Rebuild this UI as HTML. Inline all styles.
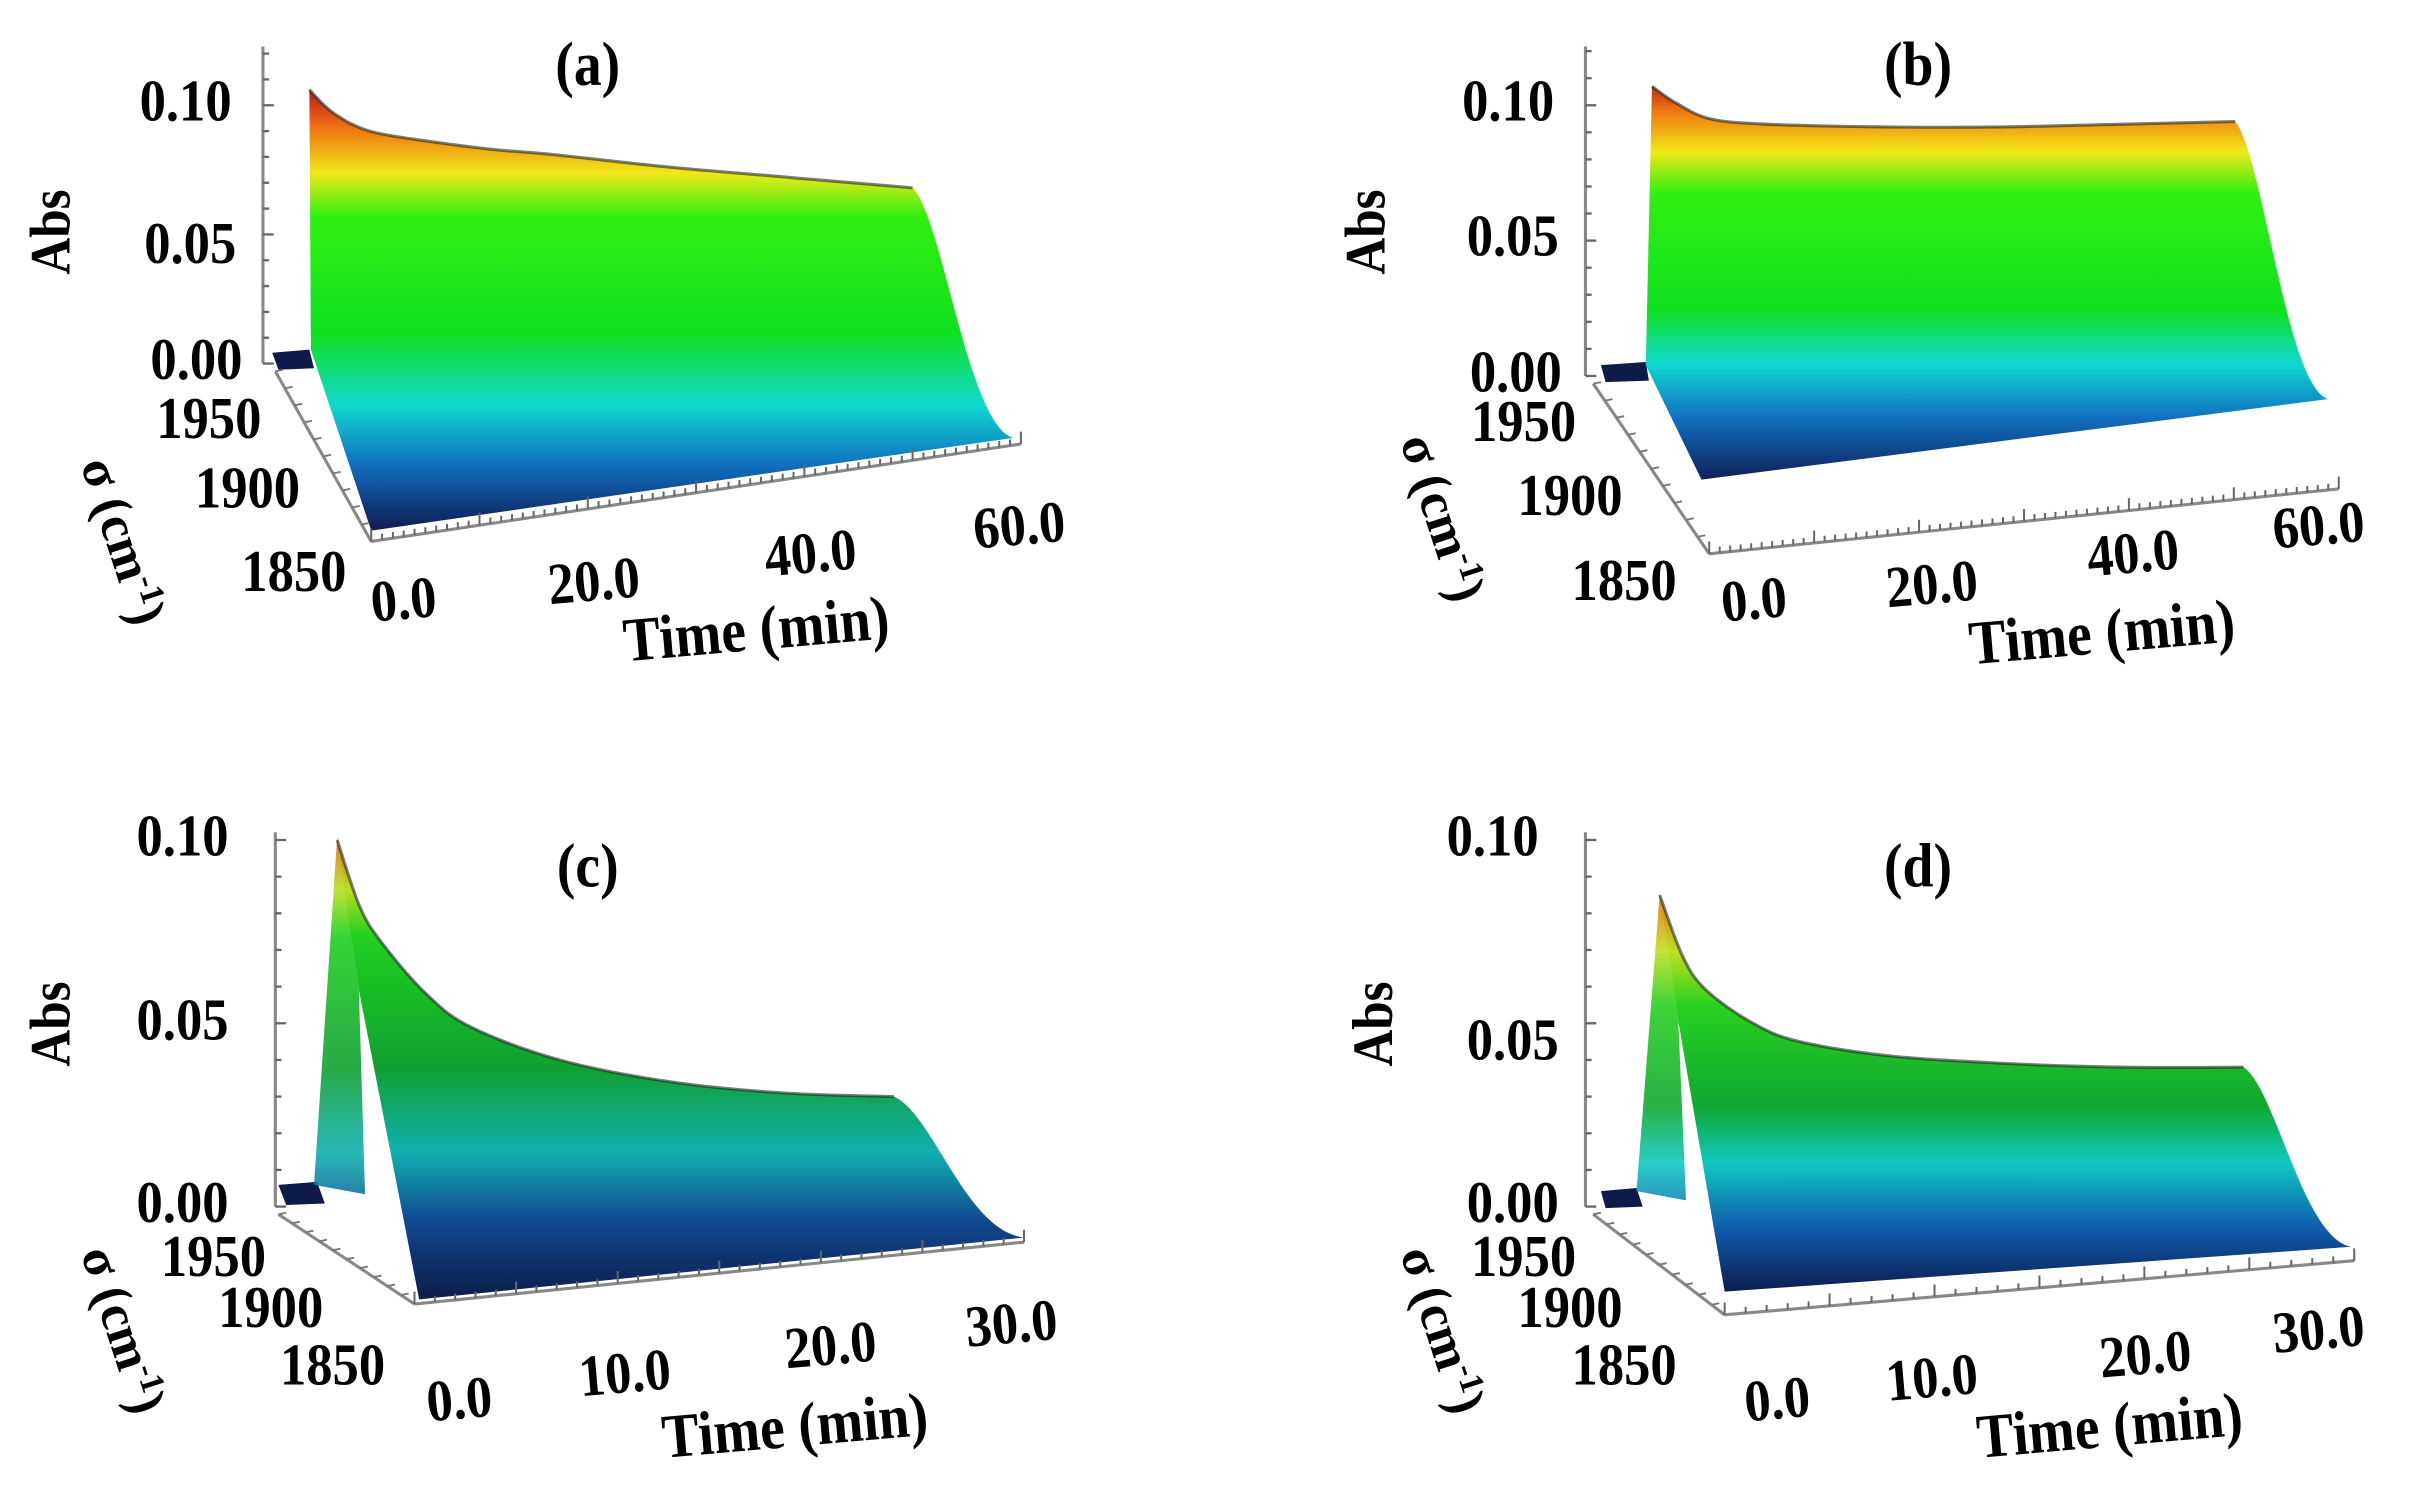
<!DOCTYPE html>
<html><head><meta charset="utf-8">
<style>
html,body{margin:0;padding:0;background:#fff;}
svg{display:block;}
text{font-family:"Liberation Serif",serif;font-weight:bold;fill:#000;}
</style></head>
<body>
<svg id="fig" width="2413" height="1499" viewBox="0 0 1560 969" xmlns="http://www.w3.org/2000/svg">
<defs id="defs"></defs>
</svg>
<script>
// ---- data ----
const timesA=[0,2,5,10,15,20,30,40,50];
const absA=[0.106,0.097,0.090,0.086,0.083,0.081,0.076,0.072,0.068];
const timesB=[0,2,5,10,20,30,40,50];
const absB=[0.107,0.101,0.095,0.093,0.092,0.092,0.093,0.094];
const timesC=[0,1,2,4,6,10,15,20,25];
const absC=[0.100,0.082,0.072,0.058,0.049,0.040,0.034,0.031,0.030];
const timesD=[0,1,2,4,6,10,15,20,25];
const absD=[0.085,0.068,0.059,0.050,0.045,0.041,0.039,0.038,0.038];
const absTicks=["0.00","0.05","0.10"];
const sigmaTicks=["1950","1900","1850"];
const timeTicks60=["0.0","20.0","40.0","60.0"];
const timeTicks30=["0.0","10.0","20.0","30.0"];

// ---- geometry per panel ----
const panels=[
 {id:'a',t:timesA,v:absA,ticks:timeTicks60,tmax:60,
  ax:170,base:235,k:1670,rx0:200,rdx:7.8,left:[201,226],fb0:[240,343],fb1:[655,283],
  sig0:[178,240],sig1:[240,350],tax1:[660,287],title:[380,55],
  absLab:[[127,245],[123,170],[120,78]],sigLab:[[135,283],[160,328],[190,382]],
  tLab:[[262,400],[385,388],[525,370],[660,352]],timeT:[490,420],absT:[45,150],sigT:[52,300],
  back:[[176,228],[200,226],[203,238],[180,239]],
  grad:[[58,'#b81818'],[82,'#f07010'],[112,'#f0e818'],[140,'#30f010'],[215,'#10e020'],[262,'#10d8d0'],[300,'#1070c0'],[340,'#102058']]},
 {id:'b',t:timesB,v:absB,ticks:timeTicks60,tmax:60,
  ax:1025,base:243,k:1750,rx0:1068,rdx:7.54,left:[1064,236],fb0:[1100,310],fb1:[1505,258],
  sig0:[1030,248],sig1:[1105,358],tax1:[1512,316],title:[1240,55],
  absLab:[[980,253],[978,165],[975,78]],sigLab:[[985,285],[1015,333],[1050,388]],
  tLab:[[1135,400],[1250,390],[1380,370],[1500,352]],timeT:[1360,422],absT:[895,150],sigT:[905,285],
  back:[[1035,236],[1064,234],[1066,246],[1038,247]],
  grad:[[55,'#c02818'],[72,'#f07810'],[98,'#f0e818'],[125,'#30f010'],[200,'#10e020'],[235,'#10d8d0'],[270,'#1070c0'],[310,'#102058']]},
 {id:'c',t:timesC,v:absC,ticks:timeTicks30,tmax:30,
  ax:178,base:780,k:2370,rx0:218,rdx:14.4,left:[232,640],fb0:[271,840],fb1:[662,800],
  sig0:[180,785],sig1:[268,843],tax1:[662,803],title:[380,573],
  absLab:[[118,790],[118,672],[118,553]],sigLab:[[138,825],[175,858],[215,895]],
  tLab:[[298,917],[405,900],[538,882],[655,868]],timeT:[515,935],absT:[45,662],sigT:[52,810],
  back:[[180,766],[205,764],[210,778],[185,779]],
  rise:[[203,766],[218,541],[232,640],[236,772]],
  grad:[[543,'#e07010'],[575,'#b8e020'],[605,'#20d020'],[690,'#10a030'],[745,'#10b0b0'],[790,'#104890'],[840,'#0c1c48']]},
 {id:'d',t:timesD,v:absD,ticks:timeTicks30,tmax:30,
  ax:1025,base:780,k:2370,rx0:1073,rdx:15.1,left:[1085,660],fb0:[1115,835],fb1:[1520,806],
  sig0:[1030,785],sig1:[1115,850],tax1:[1522,815],title:[1240,573],
  absLab:[[978,790],[978,685],[965,553]],sigLab:[[985,825],[1015,858],[1050,895]],
  tLab:[[1150,917],[1250,903],[1388,888],[1500,872]],timeT:[1365,935],absT:[900,662],sigT:[905,810],
  back:[[1035,770],[1058,768],[1062,780],[1038,781]],
  rise:[[1058,770],[1073,578],[1085,660],[1090,776]],
  grad:[[578,'#e07010'],[615,'#c0e020'],[650,'#28d020'],[715,'#10a830'],[752,'#10c8c0'],[792,'#1060b0'],[835,'#0c1c50']]}
];

const NS='http://www.w3.org/2000/svg';
const svg=document.getElementById('fig');
const defs=document.getElementById('defs');
function mk(tag,attrs,parent){const e=document.createElementNS(NS,tag);for(const k in attrs)e.setAttribute(k,attrs[k]);(parent||svg).appendChild(e);return e;}
function txt(s,x,y,size,parent,rot){const t=mk('text',{x:x,y:y,'font-size':size,'text-anchor':'middle','font-family':'"Liberation Serif Narrow","Liberation Serif",serif'},parent);t.setAttribute('transform',(rot!==undefined?'rotate('+rot+' '+x+' '+y+') ':'')+'translate('+x+' '+y+') scale(1,1.12) translate('+(-x)+' '+(-y)+')');t.textContent=s;return t;}
function smooth(pts){
  let d='';
  for(let i=0;i<pts.length-1;i++){
    const p0=pts[Math.max(0,i-1)],p1=pts[i],p2=pts[i+1],p3=pts[Math.min(pts.length-1,i+2)];
    const c1=[p1[0]+(p2[0]-p0[0])/6,p1[1]+(p2[1]-p0[1])/6];
    const c2=[p2[0]-(p3[0]-p1[0])/6,p2[1]-(p3[1]-p1[1])/6];
    d+=' C'+c1[0].toFixed(1)+','+c1[1].toFixed(1)+' '+c2[0].toFixed(1)+','+c2[1].toFixed(1)+' '+p2[0].toFixed(1)+','+p2[1].toFixed(1);
  }
  return d;
}

panels.forEach(p=>{
  const g=mk('g',{});
  
  
  const gr=mk('linearGradient',{id:'g'+p.id,gradientUnits:'userSpaceOnUse',x1:0,x2:0,y1:p.grad[0][0],y2:p.grad[p.grad.length-1][0]},defs);
  const y0=p.grad[0][0],y1=p.grad[p.grad.length-1][0];
  p.grad.forEach(s=>mk('stop',{offset:((s[0]-y0)/(y1-y0)).toFixed(3),'stop-color':s[1]},gr));
  const X=t=>p.rx0+t*p.rdx;
  const Y=v=>p.base-v*p.k;
  const bk=mk('polygon',{points:p.back.map(q=>q.join(',')).join(' '),fill:'#0e1a48'},g);
  
  
  if(p.rise){
    const rs=mk('polygon',{points:p.rise.map(q=>q.join(',')).join(' '),fill:'url(#g'+p.id+')',opacity:0.9},g);
    
    
  }
  const pts=p.t.map((t,i)=>[X(t),Y(p.v[i])]);
  const ridgeD='M'+pts[0][0]+','+pts[0][1]+smooth(pts);
  const xe=pts[pts.length-1][0],ye=pts[pts.length-1][1];
  const dx=p.fb1[0]-xe,dy=p.fb1[1]-ye;
  let d=ridgeD+' C'+(xe+dx*0.3)+','+(ye+dy*0.12)+' '+(xe+dx*0.55)+','+(ye+dy*0.95)+' '+p.fb1[0]+','+p.fb1[1];
  d+=' L'+p.fb0[0]+','+p.fb0[1]+' L'+p.left[0]+','+p.left[1]+' Z';
  const face=mk('path',{d:d,fill:'url(#g'+p.id+')'},g);
  
  
  const ridge=mk('path',{d:ridgeD,fill:'none',stroke:'#1a2a20','stroke-width':2,'stroke-opacity':0.6},g);
  
  
  const top=p.id==='a'||p.id==='b'?30:538;
  const ax=mk('line',{x1:p.ax,y1:top,x2:p.ax,y2:p.base,stroke:'#888','stroke-width':2},g);
  
  
  for(let v=0;v<=0.1201;v+=0.01){
    const yy=Y(v); if(yy<top-1)break;
    mk('line',{x1:p.ax,y1:yy,x2:p.ax+(Math.round(v*100)%5===0?7:4),y2:yy,stroke:'#666','stroke-width':1.5},g);
  }
  const sa=mk('line',{x1:p.sig0[0],y1:p.sig0[1],x2:p.sig1[0],y2:p.sig1[1],stroke:'#888','stroke-width':2},g);
  
  
  for(let i=0;i<=10;i++){const f=i/10;const xx=p.sig0[0]+f*(p.sig1[0]-p.sig0[0]),yy=p.sig0[1]+f*(p.sig1[1]-p.sig0[1]);mk('line',{x1:xx,y1:yy,x2:xx+5,y2:yy-1,stroke:'#777','stroke-width':1.2},g);}
  const ta=mk('line',{x1:p.sig1[0],y1:p.sig1[1],x2:p.tax1[0],y2:p.tax1[1],stroke:'#888','stroke-width':2},g);
  
  
  const nt=p.tmax;
  for(let i=0;i<=nt;i++){const f=i/nt;const xx=p.sig1[0]+f*(p.tax1[0]-p.sig1[0]),yy=p.sig1[1]+f*(p.tax1[1]-p.sig1[1]);const L=(i%(nt/6)===0)?8:4;mk('line',{x1:xx,y1:yy,x2:xx,y2:yy-L,stroke:'#666','stroke-width':1.3},g);}
  absTicks.forEach((s,i)=>{const t=txt(s,p.absLab[i][0],p.absLab[i][1],34,g);});
  sigmaTicks.forEach((s,i)=>{const t=txt(s,p.sigLab[i][0],p.sigLab[i][1],34,g);});
  p.ticks.forEach((s,i)=>{const t=txt(s,p.tLab[i][0],p.tLab[i][1],34,g,-5);});
  const tt=txt('Time (min)',p.timeT[0],p.timeT[1],36,g,-5);
  
  
  const at=txt('Abs',p.absT[0],p.absT[1],33,g,-90);
  
  
  const st=mk('text',{x:p.sigT[0],y:p.sigT[1],'font-size':34,transform:'rotate(72 '+p.sigT[0]+' '+p.sigT[1]+')'},g);
  
  
  st.innerHTML='σ (cm<tspan font-size="22" dy="-11">-1</tspan><tspan dy="11">)</tspan>';
  const ti=txt('('+p.id+')',p.title[0],p.title[1],36,g);
  
  
});
</script>
</body></html>
